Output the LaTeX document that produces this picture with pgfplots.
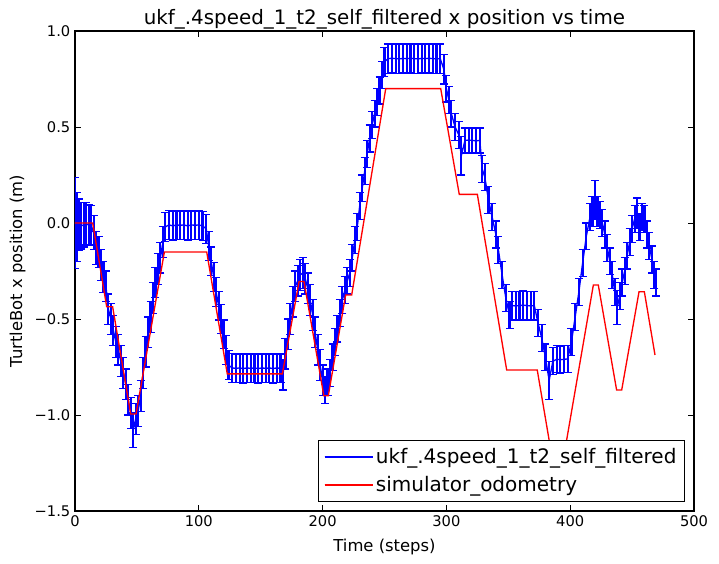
\documentclass[border=0pt]{standalone}
\usepackage{pgfplots}
\pgfplotsset{compat=1.18}
\usepackage{fontspec}
\setmainfont{DejaVu Sans}
\begin{document}
\begin{tikzpicture}
\path[use as bounding box] (-56.25pt,-39.75pt) rectangle (483pt,383.25pt);
\begin{axis}[
  scale only axis, width=464.25pt, height=360pt,
  at={(0,0)}, anchor=south west,
  xmin=0, xmax=500, ymin=-1.5, ymax=1.0,
  xtick={0,100,200,300,400,500},
  xticklabels={0,100,200,300,400,500},
  ytick={-1.5,-1,-0.5,0,0.5,1},
  yticklabels={−1.5,−1.0,−0.5,0.0,0.5,1.0},
  tick align=inside, major tick length=4.5pt,
  tick style={black, line width=0.7pt},
  axis line style={line width=1pt},
  ticklabel style={font=\fontsize{11}{13}\selectfont},
  title={ukf\_.4speed\_1\_t2\_self\_filtered x position vs time},
  title style={font=\fontsize{14.9}{17}\selectfont, yshift=-8pt},
  xlabel={Time (steps)},
  ylabel={TurtleBot x position (m)},
  xlabel style={font=\fontsize{12.3}{14}\selectfont, yshift=-2pt},
  ylabel style={font=\fontsize{12.3}{14}\selectfont},
  legend style={at={(0.9855,0.01875)}, anchor=south east, draw=black, line width=0.8pt, fill=white,
    font=\fontsize{15}{18}\selectfont, inner xsep=4pt, inner ysep=4pt, row sep=4pt, cells={anchor=west}},
  legend cell align=left,
  legend image code/.code={\draw[#1, line width=1pt] (0pt,0pt) -- (29pt,0pt); \path (0pt,0pt) -- (36pt,0pt);},
  clip marker paths=true,
]
\addplot[blue, line width=1pt, mark=none,
  error bars/.cd, y dir=both, y explicit,
  error bar style={blue, line width=1.6pt},
  error mark options={rotate=90, blue, mark size=3pt, line width=0.9pt}]
coordinates {
(0,0.00) +- (0,0.235)
(1.5,-0.02) +- (0,0.18)
(3,-0.01) +- (0,0.135)
(5,-0.015) +- (0,0.12)
(7,-0.01) +- (0,0.115)
(9,-0.005) +- (0,0.11)
(11,-0.01) +- (0,0.105)
(13,-0.01) +- (0,0.10)
(15,-0.05) +- (0,0.09)
(17,-0.13) +- (0,0.085)
(19,-0.15) +- (0,0.08)
(21,-0.22) +- (0,0.08)
(23,-0.28) +- (0,0.08)
(25,-0.33) +- (0,0.08)
(27,-0.45) +- (0,0.08)
(29,-0.50) +- (0,0.08)
(31,-0.56) +- (0,0.08)
(33,-0.62) +- (0,0.08)
(35,-0.66) +- (0,0.08)
(37,-0.72) +- (0,0.08)
(39,-0.78) +- (0,0.08)
(41,-0.84) +- (0,0.08)
(43,-0.92) +- (0,0.08)
(45,-0.99) +- (0,0.08)
(47,-1.08) +- (0,0.09)
(49,-1.02) +- (0,0.08)
(51,-0.98) +- (0,0.08)
(53,-0.90) +- (0,0.08)
(55,-0.78) +- (0,0.08)
(57,-0.67) +- (0,0.08)
(59,-0.57) +- (0,0.08)
(61,-0.49) +- (0,0.08)
(63,-0.39) +- (0,0.08)
(65,-0.31) +- (0,0.08)
(67,-0.24) +- (0,0.08)
(69,-0.18) +- (0,0.08)
(71,-0.10) +- (0,0.08)
(73,-0.02) +- (0,0.075)
(76,-0.01) +- (0,0.075)
(79,-0.015) +- (0,0.075)
(82,-0.01) +- (0,0.075)
(85,-0.012) +- (0,0.075)
(88,-0.01) +- (0,0.075)
(91,-0.015) +- (0,0.075)
(94,-0.01) +- (0,0.075)
(97,-0.012) +- (0,0.075)
(100,-0.01) +- (0,0.075)
(103,-0.015) +- (0,0.075)
(106,-0.03) +- (0,0.075)
(108,-0.12) +- (0,0.075)
(110,-0.20) +- (0,0.075)
(112,-0.28) +- (0,0.075)
(114,-0.36) +- (0,0.075)
(116,-0.43) +- (0,0.075)
(118,-0.50) +- (0,0.075)
(120,-0.58) +- (0,0.075)
(122,-0.66) +- (0,0.075)
(124,-0.74) +- (0,0.075)
(127,-0.755) +- (0,0.075)
(130,-0.757) +- (0,0.075)
(133,-0.755) +- (0,0.075)
(136,-0.758) +- (0,0.075)
(139,-0.755) +- (0,0.075)
(142,-0.757) +- (0,0.075)
(145,-0.755) +- (0,0.075)
(148,-0.758) +- (0,0.075)
(151,-0.755) +- (0,0.075)
(154,-0.757) +- (0,0.075)
(157,-0.755) +- (0,0.075)
(160,-0.758) +- (0,0.075)
(163,-0.755) +- (0,0.075)
(166,-0.757) +- (0,0.075)
(168,-0.79) +- (0,0.08)
(170,-0.68) +- (0,0.08)
(172,-0.58) +- (0,0.08)
(174,-0.50) +- (0,0.08)
(176,-0.41) +- (0,0.08)
(178,-0.33) +- (0,0.08)
(180,-0.30) +- (0,0.08)
(182,-0.27) +- (0,0.08)
(184,-0.26) +- (0,0.08)
(186,-0.29) +- (0,0.08)
(188,-0.34) +- (0,0.08)
(190,-0.40) +- (0,0.08)
(192,-0.48) +- (0,0.08)
(194,-0.57) +- (0,0.08)
(196,-0.66) +- (0,0.08)
(198,-0.74) +- (0,0.08)
(200,-0.82) +- (0,0.08)
(202,-0.87) +- (0,0.07)
(204,-0.83) +- (0,0.07)
(206,-0.78) +- (0,0.07)
(208,-0.70) +- (0,0.07)
(210,-0.62) +- (0,0.07)
(212,-0.55) +- (0,0.07)
(214,-0.47) +- (0,0.07)
(216,-0.40) +- (0,0.07)
(218,-0.35) +- (0,0.07)
(220,-0.30) +- (0,0.07)
(222,-0.26) +- (0,0.07)
(224,-0.18) +- (0,0.07)
(226,-0.09) +- (0,0.07)
(228,-0.02) +- (0,0.07)
(230,0.09) +- (0,0.07)
(232,0.18) +- (0,0.07)
(234,0.27) +- (0,0.07)
(236,0.36) +- (0,0.07)
(238,0.44) +- (0,0.07)
(240,0.51) +- (0,0.07)
(242,0.57) +- (0,0.07)
(244,0.63) +- (0,0.07)
(246,0.69) +- (0,0.07)
(248,0.77) +- (0,0.07)
(250,0.84) +- (0,0.076)
(253,0.856) +- (0,0.076)
(256,0.858) +- (0,0.076)
(259,0.856) +- (0,0.076)
(262,0.855) +- (0,0.076)
(265,0.857) +- (0,0.076)
(268,0.856) +- (0,0.076)
(271,0.858) +- (0,0.076)
(274,0.856) +- (0,0.076)
(277,0.855) +- (0,0.076)
(280,0.857) +- (0,0.076)
(283,0.856) +- (0,0.076)
(286,0.858) +- (0,0.076)
(289,0.856) +- (0,0.076)
(292,0.855) +- (0,0.076)
(295,0.856) +- (0,0.076)
(298,0.80) +- (0,0.076)
(300,0.70) +- (0,0.07)
(302,0.64) +- (0,0.07)
(304,0.57) +- (0,0.07)
(307,0.50) +- (0,0.07)
(310,0.46) +- (0,0.07)
(312,0.35) +- (0,0.10)
(315,0.43) +- (0,0.065)
(318,0.432) +- (0,0.065)
(321,0.43) +- (0,0.065)
(324,0.428) +- (0,0.065)
(327,0.43) +- (0,0.065)
(329,0.28) +- (0,0.07)
(331,0.24) +- (0,0.07)
(334,0.12) +- (0,0.07)
(337,0.03) +- (0,0.07)
(340,-0.06) +- (0,0.07)
(342,-0.14) +- (0,0.07)
(345,-0.27) +- (0,0.07)
(348,-0.39) +- (0,0.07)
(351,-0.48) +- (0,0.07)
(353,-0.43) +- (0,0.075)
(356,-0.432) +- (0,0.075)
(359,-0.43) +- (0,0.075)
(362,-0.428) +- (0,0.075)
(365,-0.43) +- (0,0.075)
(368,-0.432) +- (0,0.075)
(371,-0.43) +- (0,0.075)
(374,-0.52) +- (0,0.07)
(377,-0.60) +- (0,0.07)
(380,-0.70) +- (0,0.07)
(383,-0.82) +- (0,0.10)
(386,-0.72) +- (0,0.07)
(389,-0.71) +- (0,0.07)
(392,-0.712) +- (0,0.07)
(395,-0.71) +- (0,0.07)
(398,-0.708) +- (0,0.07)
(401,-0.62) +- (0,0.07)
(404,-0.49) +- (0,0.07)
(407,-0.36) +- (0,0.07)
(410,-0.21) +- (0,0.07)
(413,-0.07) +- (0,0.07)
(416,0.03) +- (0,0.07)
(418,0.06) +- (0,0.08)
(420,0.12) +- (0,0.10)
(422,0.06) +- (0,0.08)
(424,0.04) +- (0,0.07)
(426,0.00) +- (0,0.07)
(428,-0.06) +- (0,0.07)
(430,-0.13) +- (0,0.07)
(432,-0.20) +- (0,0.07)
(434,-0.27) +- (0,0.07)
(436,-0.36) +- (0,0.07)
(438,-0.44) +- (0,0.09)
(440,-0.38) +- (0,0.07)
(442,-0.31) +- (0,0.07)
(444,-0.25) +- (0,0.07)
(446,-0.17) +- (0,0.07)
(448,-0.10) +- (0,0.07)
(450,-0.03) +- (0,0.07)
(452,0.02) +- (0,0.07)
(454,0.05) +- (0,0.08)
(456,-0.02) +- (0,0.07)
(458,0.03) +- (0,0.07)
(460,0.02) +- (0,0.07)
(462,-0.06) +- (0,0.07)
(464,-0.12) +- (0,0.07)
(466,-0.19) +- (0,0.07)
(468,-0.27) +- (0,0.07)
(469,-0.31) +- (0,0.07)
};
\addlegendentry{ukf\_.4speed\_1\_t2\_self\_filtered}
\addplot[red, line width=1pt, mark=none] coordinates {
(0,0) (14.3,0) (25.6,-0.436) (30.4,-0.436) (45,-0.995) (49.3,-0.995)
(72.2,-0.151) (106.4,-0.151) (123,-0.786) (167.5,-0.786) (181,-0.305)
(185,-0.305) (201,-0.90) (204.6,-0.90) (218.6,-0.375) (223.5,-0.375)
(251,0.70) (295.4,0.70) (310.4,0.149) (325,0.149) (348.7,-0.766)
(373.4,-0.766) (389,-1.36) (391,-1.36) (418.7,-0.323) (422.7,-0.323)
(437.5,-0.87) (441.6,-0.87) (455.6,-0.358) (459.9,-0.358) (468.5,-0.6875)
};
\addlegendentry{simulator\_odometry}
\end{axis}
\end{tikzpicture}
\end{document}
